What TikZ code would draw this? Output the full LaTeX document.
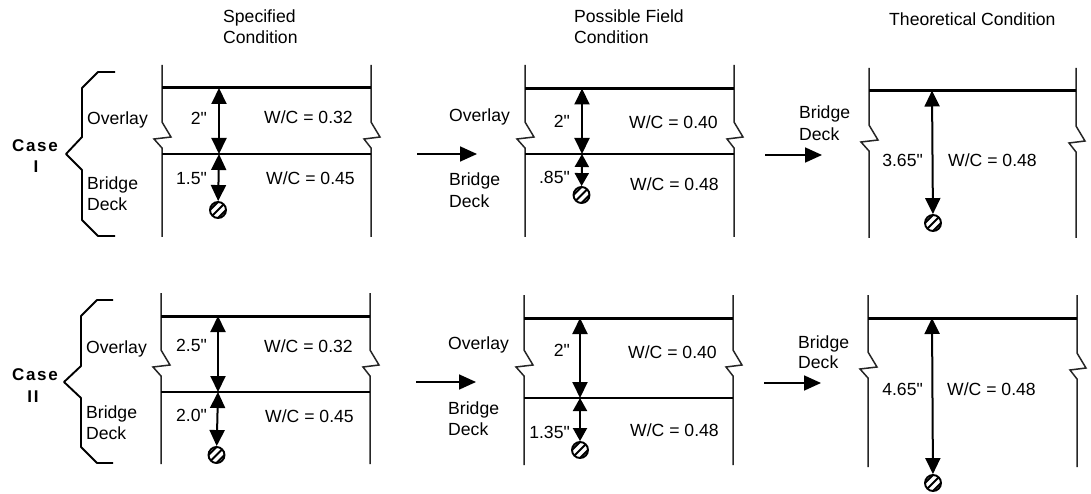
\documentclass[tikz,border=0pt]{standalone}
\usepackage{fontspec}
\setmainfont{Liberation Sans}
\newfontfamily\labfont{Liberation Sans}
\newfontfamily\casefont[LetterSpace=10]{Liberation Sans}
\usetikzlibrary{arrows.meta}
\tikzset{
  wallline/.style={line width=1.5pt,line join=miter,color=black!85},
  topline/.style={line width=3pt},
  midline/.style={line width=1.8pt},
  dim/.style={line width=2pt,{Triangle[length=16pt,width=15pt]}-{Triangle[length=16pt,width=15pt]}},
  dimshort/.style={line width=2pt,{Triangle[length=13pt,width=14pt]}-{Triangle[length=13pt,width=14pt]}},
  flow/.style={line width=1.7pt,-{Triangle[length=17pt,width=15pt]}},
  bracestroke/.style={line width=1.9pt,line join=bevel},
  lab/.style={inner sep=0pt,font=\labfont\fontsize{17.6}{20}\selectfont},
  casetext/.style={inner sep=0pt,font=\fontsize{17}{20}\selectfont\casefont\bfseries},
  rebar/.style={circle,draw,line width=1.9pt,minimum size=16pt,inner sep=0pt,
    path picture={\foreach \d in {-4,0,4}{\draw[line width=1.9pt]
      ([shift={(-9+\d,9+\d)}]path picture bounding box.center) -- ([shift={(9+\d,-9+\d)}]path picture bounding box.center);}}}
}
\newcommand\myleftwall[4]{\draw[wallline] (#1,#2) -- (#1,#3) -- ++(9,15) -- ++(-17,2) -- ++(8,9) -- (#1,#4);}
\newcommand\myrightwall[4]{\draw[wallline] (#1,#2) -- (#1,#3) -- ++(9,15) -- ++(-16,2) -- ++(7,9) -- (#1,#4);}
\newcommand\tw[4]{\node[lab,anchor=base west] (#1) at (#2,#3+6) {#4};}
\newcommand\te[4]{\node[lab,anchor=base east] (#1) at (#2,#3+6) {#4};}
\begin{document}
\begin{tikzpicture}[x=1pt,y=-1pt]
\useasboundingbox (0,0) rectangle (1091,494);
% headings
\tw{h1a}{223}{17}{Specified}
\tw{h1b}{223}{38}{Condition}
\tw{h2a}{574}{17}{Possible Field}
\tw{h2b}{574}{38}{Condition}
\tw{h3}{889}{20}{Theoretical Condition}

% ---------- Case I
\node[casetext,anchor=base] (caseI) at (35,152) {Case};
\node[casetext,anchor=base] (numI) at (36,173) {I};
\coordinate (b1a) at (115,72); \coordinate (b1b) at (98,72); \coordinate (b1c) at (82,88);
\coordinate (b1d) at (82,137); \coordinate (b1e) at (66,154); \coordinate (b1f) at (82,170);
\coordinate (b1g) at (82,220); \coordinate (b1h) at (98,236); \coordinate (b1i) at (115,236);
\draw[bracestroke] (b1a)--(b1b)--(b1c)--(b1d)--(b1e)--(b1f)--(b1g)--(b1h)--(b1i);
\tw{t1}{87}{119}{Overlay}
\tw{t2}{87}{184}{Bridge}
\tw{t3}{87}{205}{Deck}

% panel A1
\myleftwall{162}{65}{122}{237}
\myrightwall{371}{65}{122}{237}
\coordinate (a1l) at (162,88); \coordinate (a1r) at (371,88);
\coordinate (a1ml) at (162,154); \coordinate (a1mr) at (371,154);
\draw[topline] (a1l)--(a1r);
\draw[midline] (a1ml)--(a1mr);
\coordinate (a1t) at (219,88); \coordinate (a1m) at (219,154);
\node[rebar] (a1c) at (218,210) {};
\draw[dim] (a1t)--(a1m);
\draw[dim] (a1m)--(a1c);
\te{t4}{207}{119}{2"}
\te{t5}{207}{179}{1.5"}
\tw{t6}{264}{118}{W/C = 0.32}
\tw{t7}{266}{179}{W/C = 0.45}

% arrow
\coordinate (f1a) at (417,154); \coordinate (f1b) at (477,154);
\draw[flow] (f1a)--(f1b);
\tw{t8}{449}{116}{Overlay}
\tw{t9}{449}{180}{Bridge}
\tw{t10}{449}{202}{Deck}

% panel B1
\myleftwall{525}{65}{122}{237}
\myrightwall{734}{65}{122}{237}
\coordinate (b1l) at (525,88.5); \coordinate (b1r) at (734,88.5);
\coordinate (b1ml) at (525,154); \coordinate (b1mr) at (734,154);
\draw[topline] (b1l)--(b1r);
\draw[midline] (b1ml)--(b1mr);
\coordinate (b1t) at (582,88.5); \coordinate (b1m) at (582,154);
\node[rebar] (b1o) at (581.5,195) {};
\draw[dim] (b1t)--(b1m);
\draw[dimshort] (b1m)--(b1o);
\te{t11}{570}{122}{2"}
\te{t12}{570}{178}{.85"}
\tw{t13}{629}{123}{W/C = 0.40}
\tw{t14}{630}{185}{W/C = 0.48}

% arrow
\coordinate (f2a) at (765,155); \coordinate (f2b) at (822,155);
\draw[flow] (f2a)--(f2b);
\tw{t15}{799}{113}{Bridge}
\tw{t16}{799}{135}{Deck}

% panel C1
\myleftwall{869}{68}{125}{238}
\myrightwall{1076}{68}{126}{238}
\coordinate (c1l) at (869,90.5); \coordinate (c1r) at (1076,90.5);
\draw[topline] (c1l)--(c1r);
\coordinate (c1t) at (932,90.5);
\node[rebar] (c1o) at (933,223) {};
\draw[dim] (c1t)--(c1o);
\te{t17}{923}{161}{3.65"}
\tw{t18}{948}{161}{W/C = 0.48}

% ---------- Case II
\node[casetext,anchor=base] (caseII) at (35,380) {Case};
\node[casetext,anchor=base] (numII) at (33,402) {II};
\coordinate (b2a) at (113,300); \coordinate (b2b) at (97,300); \coordinate (b2c) at (81,316);
\coordinate (b2d) at (81,366); \coordinate (b2e) at (64,382); \coordinate (b2f) at (81,398);
\coordinate (b2g) at (81,447); \coordinate (b2h) at (97,463); \coordinate (b2i) at (113,463);
\draw[bracestroke] (b2a)--(b2b)--(b2c)--(b2d)--(b2e)--(b2f)--(b2g)--(b2h)--(b2i);
\tw{t19}{86}{347}{Overlay}
\tw{t20}{86}{412}{Bridge}
\tw{t21}{86}{433}{Deck}

% panel A2
\myleftwall{161}{293}{350}{464}
\myrightwall{370}{293}{350}{464}
\coordinate (a2l) at (161,316); \coordinate (a2r) at (370,316);
\coordinate (a2ml) at (161,392); \coordinate (a2mr) at (370,392);
\draw[topline] (a2l)--(a2r);
\draw[midline] (a2ml)--(a2mr);
\coordinate (a2t) at (218,316); \coordinate (a2m) at (218,392);
\node[rebar] (a2c) at (216.5,455) {};
\draw[dim] (a2t)--(a2m);
\draw[dim] (a2m)--(a2c);
\te{t22}{207}{345}{2.5"}
\te{t23}{207}{415}{2.0"}
\tw{t24}{264}{346}{W/C = 0.32}
\tw{t25}{265}{416}{W/C = 0.45}

% arrow
\coordinate (f3a) at (416,382); \coordinate (f3b) at (476,382);
\draw[flow] (f3a)--(f3b);
\tw{t26}{448}{343}{Overlay}
\tw{t27}{448}{408}{Bridge}
\tw{t28}{448}{429}{Deck}

% panel B2
\myleftwall{524}{295}{350}{465}
\myrightwall{733}{295}{350}{465}
\coordinate (b2l) at (524,318); \coordinate (b2r) at (733,318);
\coordinate (b2ml) at (524,398); \coordinate (b2mr) at (733,398);
\draw[topline] (b2l)--(b2r);
\draw[midline] (b2ml)--(b2mr);
\coordinate (b2t) at (580,318); \coordinate (b2m) at (580,398);
\node[rebar] (b2o) at (580,450) {};
\draw[dim] (b2t)--(b2m);
\draw[dimshort] (b2m)--(b2o);
\te{t29}{570}{350}{2"}
\te{t30}{570}{432}{1.35"}
\tw{t31}{628}{352}{W/C = 0.40}
\tw{t32}{630}{430}{W/C = 0.48}

% arrow
\coordinate (f4a) at (764,383); \coordinate (f4b) at (821,383);
\draw[flow] (f4a)--(f4b);
\tw{t33}{798}{342}{Bridge}
\tw{t34}{798}{362}{Deck}

% panel C2
\myleftwall{868}{295}{352}{467}
\myrightwall{1077}{295}{353}{467}
\coordinate (c2l) at (868,318); \coordinate (c2r) at (1077,318);
\draw[topline] (c2l)--(c2r);
\coordinate (c2t) at (932,318);
\node[rebar] (c2o) at (933,483) {};
\draw[dim] (c2t)--(c2o);
\te{t35}{923}{389}{4.65"}
\tw{t36}{947}{389}{W/C = 0.48}
\end{tikzpicture}
\end{document}
